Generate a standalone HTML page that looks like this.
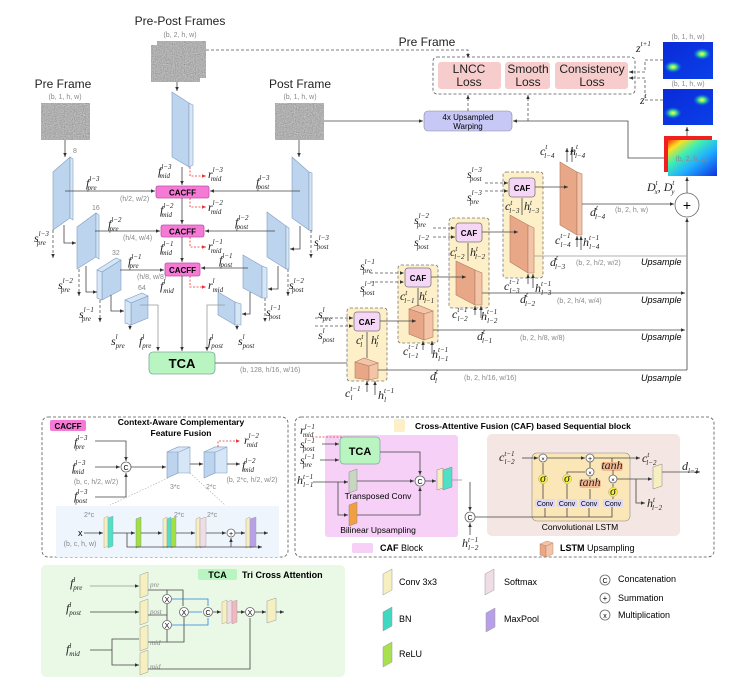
<!DOCTYPE html>
<html><head><meta charset="utf-8"><style>
html,body{margin:0;padding:0;background:#fff}
svg{display:block}
text{font-family:"Liberation Sans",sans-serif}
.m{font-family:"Liberation Serif",serif;font-style:italic;font-size:12px;fill:#222}
.s{font-size:7px}
.g{fill:#888;font-size:7px}
.t{font-size:12px;fill:#222}
.b{font-weight:bold}
.ln{stroke:#444;stroke-width:.8;fill:none}
.gl{stroke:#999;stroke-width:.8;fill:none}
.dl{stroke:#555;stroke-width:.8;fill:none;stroke-dasharray:3 2}
.rd{stroke:#e33;stroke-width:.8;fill:none;stroke-dasharray:2 1.5}
.bl{fill:#bcd4ee;stroke:#7f9cc0;stroke-width:.6}
.bs{fill:#d6e6f7;stroke:#7f9cc0;stroke-width:.6}
.or{fill:#e8a888;stroke:#b07a5e;stroke-width:.6}
.os{fill:#f4c4a8;stroke:#b07a5e;stroke-width:.6}
.pk{fill:#f47ad6;stroke:#c050a8;stroke-width:.8}
.caf{fill:#f6d6f6;stroke:#777;stroke-width:.8}
.yl{fill:#fdf0c8;stroke:#777;stroke-width:.8;stroke-dasharray:3 2}
.cir{fill:#fff;stroke:#666;stroke-width:.8}
</style></head><body>
<svg width="740" height="690" viewBox="0 0 740 690" xmlns="http://www.w3.org/2000/svg">
<defs>
<filter id="nz" x="0" y="0" width="100%" height="100%"><feTurbulence type="fractalNoise" baseFrequency="0.9" numOctaves="2" seed="3"/><feColorMatrix type="matrix" values="0.26 0.26 0.26 0 0.04 0.26 0.26 0.26 0 0.04 0.26 0.26 0.26 0 0.04 0 0 0 0 1"/></filter>
<marker id="ar" markerWidth="6" markerHeight="6" refX="5" refY="3" orient="auto"><path d="M0,0.8 L5,3 L0,5.2z" fill="#333"/></marker>
<marker id="arr" markerWidth="6" markerHeight="6" refX="5" refY="3" orient="auto"><path d="M0,0.8 L5,3 L0,5.2z" fill="#e33"/></marker>
<radialGradient id="blob"><stop offset="0" stop-color="#ffff60"/><stop offset=".4" stop-color="#40e080"/><stop offset="1" stop-color="#1060ff" stop-opacity="0"/></radialGradient>
<linearGradient id="hb" x1="0" y1="0" x2="1" y2="1"><stop offset="0" stop-color="#0a2ad8"/><stop offset="1" stop-color="#0a40e8"/></linearGradient>
<linearGradient id="flow" x1="0" y1="0" x2="1" y2="1"><stop offset="0" stop-color="#ff3010"/><stop offset=".15" stop-color="#ffe020"/><stop offset=".35" stop-color="#40f0b0"/><stop offset=".6" stop-color="#20b0ff"/><stop offset="1" stop-color="#1030e0"/></linearGradient>
</defs>

<text x="180" y="25" text-anchor="middle" class="t" font-size="13">Pre-Post Frames</text>
<text x="180" y="37" text-anchor="middle" class="g">(b, 2, h, w)</text>
<rect x="157" y="41" width="49" height="37" filter="url(#nz)"/>
<rect x="151" y="45" width="49" height="37" filter="url(#nz)"/>
<text x="63" y="88" text-anchor="middle" class="t" font-size="13">Pre Frame</text>
<text x="65" y="99" text-anchor="middle" class="g">(b, 1, h, w)</text>
<rect x="41" y="103" width="49" height="37" filter="url(#nz)"/>
<text x="300" y="88" text-anchor="middle" class="t" font-size="13">Post Frame</text>
<text x="300" y="99" text-anchor="middle" class="g">(b, 1, h, w)</text>
<rect x="275" y="103" width="49" height="37" filter="url(#nz)"/>

<path class="dl" d="M206,50 H468 V58" marker-end="url(#ar)"/>
<text x="427" y="46" text-anchor="middle" class="t" font-size="12">Pre Frame</text>
<path class="ln" d="M324,121 H423" marker-end="url(#ar)"/>

<path class="ln" d="M177,82 V91" marker-end="url(#ar)"/>
<path class="ln" d="M65,140 V157" marker-end="url(#ar)"/>
<path class="ln" d="M299,140 V157" marker-end="url(#ar)"/>

<polygon class="bl" points="172,92 189,103 189,167 172,157"/><polygon class="bs" points="189,103 193,105 193,165 189,167"/>
<polygon class="bl" points="53,172 70,157 70,218 53,230"/><polygon class="bs" points="70,157 73,159 73,220 70,218"/>
<polygon class="bl" points="77,227 96,213 96,257 77,269"/><polygon class="bs" points="96,213 99,215 99,259 96,257"/>
<polygon class="bs" points="97,270 116,258 121,260 102,272"/><polygon class="bl" points="102,272 121,260 121,290 102,300"/><polygon class="bs" points="97,270 102,272 102,300 97,298"/>
<polygon class="bs" points="125,300 142,293 148,296 131,303"/><polygon class="bl" points="131,303 148,296 148,318 131,325"/><polygon class="bs" points="125,300 131,303 131,325 125,323"/>
<polygon class="bl" points="292,157 309,172 309,230 292,218"/><polygon class="bs" points="309,172 312,173 312,231 309,230"/>
<polygon class="bl" points="267,212 286,226 286,269 267,257"/><polygon class="bs" points="286,226 289,228 289,269 286,269"/>
<polygon class="bl" points="243,255 262,266 262,298 243,288"/><polygon class="bs" points="262,266 267,268 267,298 262,298"/>
<polygon class="bl" points="218,292 235,302 235,325 218,315"/><polygon class="bs" points="235,302 241,304 241,325 235,325"/>

<text x="73" y="153" class="g" font-size="8">8</text>
<text x="92" y="210" class="g" font-size="8">16</text>
<text x="112" y="255" class="g" font-size="8">32</text>
<text x="138" y="290" class="g" font-size="8">64</text>

<rect x="156" y="186" width="53" height="12" rx="2" class="pk"/><text x="182.5" y="195.5" text-anchor="middle" font-size="8" class="b">CACFF</text>
<rect x="161" y="225" width="43" height="12" rx="2" class="pk"/><text x="182.5" y="234.5" text-anchor="middle" font-size="8" class="b">CACFF</text>
<rect x="165" y="263" width="35" height="13" rx="2" class="pk"/><text x="182.5" y="273" text-anchor="middle" font-size="8" class="b">CACFF</text>

<path class="ln" d="M182,167 V185" marker-end="url(#ar)"/>
<path class="ln" d="M182,198 V224" marker-end="url(#ar)"/>
<path class="ln" d="M182,237 V262" marker-end="url(#ar)"/>
<path class="ln" d="M182,276 V351" marker-end="url(#ar)"/>
<path class="rd" d="M190,167 V176 H206" marker-end="url(#arr)"/>
<path class="rd" d="M190,198 V207 H206" marker-end="url(#arr)"/>
<path class="rd" d="M190,237 V247 H206" marker-end="url(#arr)"/>
<path class="rd" d="M190,276 V287 H206" marker-end="url(#arr)"/>

<path class="ln" d="M65,191 H155" marker-end="url(#ar)"/>
<path class="ln" d="M95,231 H160" marker-end="url(#ar)"/>
<path class="ln" d="M120,270 H164" marker-end="url(#ar)"/>
<path class="ln" d="M300,191 H210" marker-end="url(#ar)"/>
<path class="ln" d="M275,231 H205" marker-end="url(#ar)"/>
<path class="ln" d="M248,268 H201" marker-end="url(#ar)"/>
<path class="ln" d="M64,225 V243 H76" marker-end="url(#ar)"/>
<path class="ln" d="M86,266 V292 H97" marker-end="url(#ar)"/>
<path class="ln" d="M111,295 V311 H124" marker-end="url(#ar)"/>
<path class="ln" d="M300,226 V249 H290" marker-end="url(#ar)"/>
<path class="ln" d="M278,266 V289 H268" marker-end="url(#ar)"/>
<path class="ln" d="M250,292 V314 H242" marker-end="url(#ar)"/>
<path class="gl" d="M140,305 H158 V351" marker-end="url(#ar)"/>
<path class="gl" d="M225,305 H207 V351" marker-end="url(#ar)"/>
<path class="dl" d="M53,230 V258" marker-end="url(#ar)"/>
<path class="dl" d="M79,269 V296" marker-end="url(#ar)"/>
<path class="dl" d="M100,300 V322" marker-end="url(#ar)"/>
<path class="dl" d="M311,230 V258" marker-end="url(#ar)"/>
<path class="dl" d="M288,269 V296" marker-end="url(#ar)"/>
<path class="dl" d="M265,298 V322" marker-end="url(#ar)"/>
<path class="dl" d="M130,325 V330" marker-end="url(#ar)"/>
<path class="dl" d="M237,325 V330" marker-end="url(#ar)"/>

<text x="120" y="201" class="g" font-size="5">(h/2, w/2)</text>
<text x="123" y="240" class="g" font-size="5">(h/4, w/4)</text>
<text x="137" y="279" class="g" font-size="5">(h/8, w/8)</text>

<text x="86" y="187" class="m">f<tspan class="s" dy="-6">l−3</tspan><tspan class="s" dx="-12" dy="9">pre</tspan></text>
<text x="108" y="228" class="m">f<tspan class="s" dy="-6">l−2</tspan><tspan class="s" dx="-12" dy="9">pre</tspan></text>
<text x="128" y="265" class="m">f<tspan class="s" dy="-6">l−1</tspan><tspan class="s" dx="-12" dy="9">pre</tspan></text>
<text x="158" y="175" class="m">f<tspan class="s" dy="-6">l−3</tspan><tspan class="s" dx="-12" dy="9">mid</tspan></text>
<text x="160" y="214" class="m">f<tspan class="s" dy="-6">l−2</tspan><tspan class="s" dx="-12" dy="9">mid</tspan></text>
<text x="160" y="252" class="m">f<tspan class="s" dy="-6">l−1</tspan><tspan class="s" dx="-12" dy="9">mid</tspan></text>
<text x="160" y="290" class="m">f<tspan class="s" dy="-6">l</tspan><tspan class="s" dx="-2" dy="9">mid</tspan></text>
<text x="208" y="178" class="m">r<tspan class="s" dy="-6">l−3</tspan><tspan class="s" dx="-12" dy="9">mid</tspan></text>
<text x="208" y="211" class="m">r<tspan class="s" dy="-6">l−2</tspan><tspan class="s" dx="-12" dy="9">mid</tspan></text>
<text x="208" y="250" class="m">r<tspan class="s" dy="-6">l−1</tspan><tspan class="s" dx="-12" dy="9">mid</tspan></text>
<text x="208" y="289" class="m">r<tspan class="s" dy="-6">l</tspan><tspan class="s" dx="-2" dy="9">mid</tspan></text>
<text x="256" y="186" class="m">f<tspan class="s" dy="-6">l−3</tspan><tspan class="s" dx="-12" dy="9">post</tspan></text>
<text x="235" y="226" class="m">f<tspan class="s" dy="-6">l−2</tspan><tspan class="s" dx="-12" dy="9">post</tspan></text>
<text x="219" y="264" class="m">f<tspan class="s" dy="-6">l−1</tspan><tspan class="s" dx="-12" dy="9">post</tspan></text>
<text x="34" y="242" class="m">s<tspan class="s" dy="-6">l−3</tspan><tspan class="s" dx="-12" dy="9">pre</tspan></text>
<text x="58" y="289" class="m">s<tspan class="s" dy="-6">l−2</tspan><tspan class="s" dx="-12" dy="9">pre</tspan></text>
<text x="79" y="318" class="m">s<tspan class="s" dy="-6">l−1</tspan><tspan class="s" dx="-12" dy="9">pre</tspan></text>
<text x="111" y="345" class="m">s<tspan class="s" dy="-6">l</tspan><tspan class="s" dx="-2" dy="9">pre</tspan></text>
<text x="139" y="345" class="m">f<tspan class="s" dy="-6">l</tspan><tspan class="s" dx="-2" dy="9">pre</tspan></text>
<text x="208" y="345" class="m">f<tspan class="s" dy="-6">l</tspan><tspan class="s" dx="-2" dy="9">post</tspan></text>
<text x="238" y="345" class="m">s<tspan class="s" dy="-6">l</tspan><tspan class="s" dx="-2" dy="9">post</tspan></text>
<text x="314" y="246" class="m">s<tspan class="s" dy="-6">l−3</tspan><tspan class="s" dx="-12" dy="9">post</tspan></text>
<text x="289" y="289" class="m">s<tspan class="s" dy="-6">l−2</tspan><tspan class="s" dx="-12" dy="9">post</tspan></text>
<text x="266" y="316" class="m">s<tspan class="s" dy="-6">l−1</tspan><tspan class="s" dx="-12" dy="9">post</tspan></text>

<rect x="149" y="352" width="66" height="22" rx="4" fill="#b8f5c0" stroke="#7a9" stroke-width=".8"/>
<text x="182" y="368" text-anchor="middle" font-size="13" class="b">TCA</text>
<path class="ln" d="M215,363 H354" marker-end="url(#ar)"/>
<text x="240" y="372" class="g" font-size="7">(b, 128, h/16, w/16)</text>

<rect x="433" y="57" width="202" height="37" rx="4" fill="none" class="dl"/>
<rect x="438" y="62" width="63" height="27" rx="3" fill="#f6cccc"/>
<rect x="505" y="62" width="45" height="27" rx="3" fill="#f6cccc"/>
<rect x="555" y="62" width="73" height="27" rx="3" fill="#f6cccc"/>
<text x="469" y="73" text-anchor="middle" class="t" font-size="11">LNCC</text><text x="469" y="86" text-anchor="middle" class="t" font-size="11">Loss</text>
<text x="528" y="73" text-anchor="middle" class="t" font-size="11">Smooth</text><text x="528" y="86" text-anchor="middle" class="t" font-size="11">Loss</text>
<text x="592" y="73" text-anchor="middle" class="t" font-size="11">Consistency</text><text x="592" y="86" text-anchor="middle" class="t" font-size="11">Loss</text>
<rect x="424" y="111" width="88" height="20" rx="4" fill="#c8c8f6" stroke="#889" stroke-width=".6"/>
<text x="468" y="120" text-anchor="middle" font-size="8">4x Upsampled</text>
<text x="468" y="129" text-anchor="middle" font-size="8">Warping</text>
<path class="dl" d="M468,111 V95" marker-end="url(#ar)"/>
<path class="dl" d="M528,121 V95" marker-end="url(#ar)"/>
<path class="ln" d="M664,158 H628 V121 H513" marker-end="url(#ar)"/>
<path class="dl" d="M663,60 H645 V72 H629" marker-end="url(#ar)"/>
<path class="dl" d="M663,100 H645 V78 H629" marker-end="url(#ar)"/>

<text x="688" y="39" text-anchor="middle" class="g">(b, 1, h, w)</text>
<rect x="663" y="42" width="50" height="37" fill="url(#hb)"/>
<ellipse cx="702" cy="54" rx="9" ry="6" fill="url(#blob)"/><ellipse cx="673" cy="67" rx="9" ry="6" fill="url(#blob)"/>
<text x="688" y="86" text-anchor="middle" class="g">(b, 1, h, w)</text>
<rect x="663" y="89" width="50" height="36" fill="url(#hb)"/>
<ellipse cx="702" cy="100" rx="9" ry="6" fill="url(#blob)"/><ellipse cx="673" cy="113" rx="9" ry="6" fill="url(#blob)"/>
<text x="636" y="52" class="m">z<tspan class="s" dy="-6">t+1</tspan></text>
<text x="640" y="104" class="m">z<tspan class="s" dy="-6">t</tspan></text>
<path class="ln" d="M687,136 V127" marker-end="url(#ar)"/>
<rect x="664" y="136" width="48" height="36" fill="#f02020"/>
<rect x="668" y="140" width="49" height="36" fill="url(#flow)"/>
<text x="692" y="161" text-anchor="middle" class="g" fill="#555">(b, 2, h, w)</text>

<circle cx="687" cy="205" r="12" class="cir"/><text x="687" y="210" text-anchor="middle" font-size="14">+</text>
<path class="ln" d="M687,193 V177" marker-end="url(#ar)"/>
<text x="647" y="191" class="m">D<tspan class="s" dy="-6">t</tspan><tspan class="s" dx="-3" dy="9">x</tspan><tspan dy="-3">, D</tspan><tspan class="s" dy="-6">t</tspan><tspan class="s" dx="-3" dy="9">y</tspan></text>
<path class="ln" d="M687,370 V218" marker-end="url(#ar)"/>

<rect x="503" y="172" width="40" height="106" rx="3" class="yl"/>
<rect x="449" y="218" width="40" height="90" rx="3" class="yl"/>
<rect x="398" y="265" width="40" height="78" rx="3" class="yl"/>
<rect x="347" y="308" width="40" height="73" rx="3" class="yl"/>
<rect x="509" y="178" width="26" height="19" rx="3" class="caf"/><text x="522" y="191" text-anchor="middle" font-size="8" class="b">CAF</text>
<rect x="456" y="223" width="26" height="19" rx="3" class="caf"/><text x="469" y="236" text-anchor="middle" font-size="8" class="b">CAF</text>
<rect x="405" y="268" width="26" height="19" rx="3" class="caf"/><text x="418" y="281" text-anchor="middle" font-size="8" class="b">CAF</text>
<rect x="354" y="312" width="26" height="19" rx="3" class="caf"/><text x="367" y="325" text-anchor="middle" font-size="8" class="b">CAF</text>

<polygon class="or" points="560,162 577,172 577,235 560,225"/><polygon class="os" points="577,172 582,174 582,235 577,235"/>
<polygon class="or" points="510,215 528,225 528,273 510,262"/><polygon class="os" points="528,225 534,228 534,273 528,273"/>
<polygon class="or" points="456,261 475,270 475,305 456,295"/><polygon class="os" points="475,270 482,273 482,305 475,305"/>
<polygon class="os" points="409,309 418,305 433,311 424,314"/><polygon class="or" points="409,309 424,314 424,340 409,334"/><polygon class="os" points="424,314 433,311 433,337 424,340"/>
<polygon class="os" points="355,362 364,358 378,363 369,366"/><polygon class="or" points="355,362 369,366 369,380 355,378"/><polygon class="os" points="369,366 378,363 378,378 369,380"/>

<path class="ln" d="M535,187 H568" marker-end="url(#ar)"/>
<path class="ln" d="M482,232 H518" marker-end="url(#ar)"/>
<path class="ln" d="M431,277 H466" marker-end="url(#ar)"/>
<path class="ln" d="M380,321 H416" marker-end="url(#ar)"/>
<path class="ln" d="M522,215 V198"/><path class="ln" d="M468,261 V243"/><path class="ln" d="M418,306 V288"/><path class="ln" d="M367,358 V332"/>
<path class="ln" d="M567,162 V148" marker-end="url(#ar)"/><path class="ln" d="M572,162 V148" marker-end="url(#ar)"/>
<path class="ln" d="M577,247 V236" marker-end="url(#ar)"/><path class="ln" d="M581,250 V236" marker-end="url(#ar)"/>
<path class="ln" d="M528,284 V274" marker-end="url(#ar)"/><path class="ln" d="M533,288 V274" marker-end="url(#ar)"/>
<path class="ln" d="M475,315 V306" marker-end="url(#ar)"/><path class="ln" d="M481,318 V306" marker-end="url(#ar)"/>
<path class="ln" d="M423,350 V341" marker-end="url(#ar)"/><path class="ln" d="M432,354 V341" marker-end="url(#ar)"/>
<path class="ln" d="M367,392 V381" marker-end="url(#ar)"/><path class="ln" d="M375,395 V381" marker-end="url(#ar)"/>
<path class="dl" d="M485,183 H508" marker-end="url(#ar)"/><path class="dl" d="M485,191 H508" marker-end="url(#ar)"/>
<path class="dl" d="M433,228 H455" marker-end="url(#ar)"/><path class="dl" d="M433,237 H455" marker-end="url(#ar)"/>
<path class="dl" d="M370,273 H404" marker-end="url(#ar)"/><path class="dl" d="M370,282 H404" marker-end="url(#ar)"/>
<path class="dl" d="M315,318 H353" marker-end="url(#ar)"/><path class="dl" d="M315,326 H353" marker-end="url(#ar)"/>
<path class="ln" d="M582,204 H674" marker-end="url(#ar)"/>
<path class="gl" d="M534,256 H687"/>
<path class="ln" d="M482,293 H685" marker-end="url(#ar)"/>
<path class="ln" d="M433,330 H685" marker-end="url(#ar)"/>
<path class="ln" d="M378,370 H687"/>
<text x="615" y="212" class="g" fill="#777">(b, 2, h, w)</text>
<text x="576" y="265" class="g" fill="#777">(b, 2, h/2, w/2)</text>
<text x="557" y="303" class="g" fill="#777">(b, 2, h/4, w/4)</text>
<text x="520" y="340" class="g" fill="#777">(b, 2, h/8, w/8)</text>
<text x="464" y="380" class="g" fill="#777">(b, 2, h/16, w/16)</text>
<text x="641" y="265" font-style="italic" font-size="9">Upsample</text>
<text x="641" y="303" font-style="italic" font-size="9">Upsample</text>
<text x="641" y="340" font-style="italic" font-size="9">Upsample</text>
<text x="641" y="381" font-style="italic" font-size="9">Upsample</text>
<text x="590" y="216" class="m">d<tspan class="s" dy="-6">t</tspan><tspan class="s" dx="-3" dy="9">l−4</tspan></text>
<text x="550" y="266" class="m">d<tspan class="s" dy="-6">t</tspan><tspan class="s" dx="-3" dy="9">l−3</tspan></text>
<text x="520" y="303" class="m">d<tspan class="s" dy="-6">t</tspan><tspan class="s" dx="-3" dy="9">l−2</tspan></text>
<text x="477" y="340" class="m">d<tspan class="s" dy="-6">t</tspan><tspan class="s" dx="-3" dy="9">l−1</tspan></text>
<text x="430" y="380" class="m">d<tspan class="s" dy="-6">t</tspan><tspan class="s" dx="-3" dy="9">l</tspan></text>
<text x="540" y="155" class="m">c<tspan class="s" dy="-6">t</tspan><tspan class="s" dx="-3" dy="9">l−4</tspan></text>
<text x="570" y="155" class="m">h<tspan class="s" dy="-6">t</tspan><tspan class="s" dx="-3" dy="9">l−4</tspan></text>
<text x="555" y="244" class="m">c<tspan class="s" dy="-6">t−1</tspan><tspan class="s" dx="-10" dy="9">l−4</tspan></text>
<text x="583" y="246" class="m">h<tspan class="s" dy="-6">t−1</tspan><tspan class="s" dx="-10" dy="9">l−4</tspan></text>
<text x="505" y="210" class="m" font-size="10">c<tspan class="s" dy="-5">t</tspan><tspan class="s" dx="-3" dy="8">l−3</tspan></text>
<text x="524" y="210" class="m" font-size="10">h<tspan class="s" dy="-5">t</tspan><tspan class="s" dx="-3" dy="8">l−3</tspan></text>
<text x="504" y="290" class="m">c<tspan class="s" dy="-6">t−1</tspan><tspan class="s" dx="-10" dy="9">l−3</tspan></text>
<text x="535" y="292" class="m">h<tspan class="s" dy="-6">t−1</tspan><tspan class="s" dx="-10" dy="9">l−3</tspan></text>
<text x="450" y="256" class="m" font-size="10">c<tspan class="s" dy="-5">t</tspan><tspan class="s" dx="-3" dy="8">l−2</tspan></text>
<text x="470" y="256" class="m" font-size="10">h<tspan class="s" dy="-5">t</tspan><tspan class="s" dx="-3" dy="8">l−2</tspan></text>
<text x="452" y="318" class="m">c<tspan class="s" dy="-6">t−1</tspan><tspan class="s" dx="-10" dy="9">l−2</tspan></text>
<text x="481" y="320" class="m">h<tspan class="s" dy="-6">t−1</tspan><tspan class="s" dx="-10" dy="9">l−2</tspan></text>
<text x="400" y="300" class="m" font-size="10">c<tspan class="s" dy="-5">t</tspan><tspan class="s" dx="-3" dy="8">l−1</tspan></text>
<text x="419" y="300" class="m" font-size="10">h<tspan class="s" dy="-5">t</tspan><tspan class="s" dx="-3" dy="8">l−1</tspan></text>
<text x="403" y="355" class="m">c<tspan class="s" dy="-6">t−1</tspan><tspan class="s" dx="-10" dy="9">l−1</tspan></text>
<text x="432" y="358" class="m">h<tspan class="s" dy="-6">t−1</tspan><tspan class="s" dx="-10" dy="9">l−1</tspan></text>
<text x="356" y="344" class="m" font-size="10">c<tspan class="s" dy="-5">t</tspan><tspan class="s" dx="-3" dy="8">l</tspan></text>
<text x="371" y="344" class="m" font-size="10">h<tspan class="s" dy="-5">t</tspan><tspan class="s" dx="-3" dy="8">l</tspan></text>
<text x="345" y="397" class="m">c<tspan class="s" dy="-6">t−1</tspan><tspan class="s" dx="-10" dy="9">l</tspan></text>
<text x="378" y="399" class="m">h<tspan class="s" dy="-6">t−1</tspan><tspan class="s" dx="-10" dy="9">l</tspan></text>
<text x="467" y="178" class="m">s<tspan class="s" dy="-6">l−3</tspan><tspan class="s" dx="-12" dy="9">post</tspan></text>
<text x="467" y="201" class="m">s<tspan class="s" dy="-6">l−3</tspan><tspan class="s" dx="-12" dy="9">pre</tspan></text>
<text x="414" y="224" class="m">s<tspan class="s" dy="-6">l−2</tspan><tspan class="s" dx="-12" dy="9">pre</tspan></text>
<text x="414" y="246" class="m">s<tspan class="s" dy="-6">l−2</tspan><tspan class="s" dx="-12" dy="9">post</tspan></text>
<text x="360" y="270" class="m">s<tspan class="s" dy="-6">l−1</tspan><tspan class="s" dx="-12" dy="9">pre</tspan></text>
<text x="360" y="292" class="m">s<tspan class="s" dy="-6">l−1</tspan><tspan class="s" dx="-12" dy="9">post</tspan></text>
<text x="318" y="318" class="m">s<tspan class="s" dy="-6">l</tspan><tspan class="s" dx="-2" dy="9">pre</tspan></text>
<text x="318" y="339" class="m">s<tspan class="s" dy="-6">l</tspan><tspan class="s" dx="-2" dy="9">post</tspan></text>

<rect x="42" y="417" width="246" height="140" rx="6" fill="none" class="dl" stroke="#999"/>
<rect x="50" y="420" width="36" height="11" rx="2" fill="#f47ad6"/>
<text x="68" y="429" text-anchor="middle" font-size="8" class="b">CACFF</text>
<text x="181" y="425" text-anchor="middle" font-size="8.5" class="b">Context-Aware Complementary</text>
<text x="181" y="436" text-anchor="middle" font-size="8.5" class="b">Feature Fusion</text>
<text x="74" y="446" class="m">f<tspan class="s" dy="-6">l−3</tspan><tspan class="s" dx="-12" dy="9">pre</tspan></text>
<text x="72" y="471" class="m">f<tspan class="s" dy="-6">l−3</tspan><tspan class="s" dx="-12" dy="9">mid</tspan></text>
<text x="96" y="484" text-anchor="middle" class="g">(b, c, h/2, w/2)</text>
<text x="74" y="500" class="m">f<tspan class="s" dy="-6">l−3</tspan><tspan class="s" dx="-12" dy="9">post</tspan></text>
<circle cx="126" cy="467" r="5" class="cir"/><text x="126" y="470" text-anchor="middle" font-size="7">C</text>
<path class="ln" d="M95,441 H126 V461" marker-end="url(#ar)"/>
<path class="ln" d="M95,467 H120" marker-end="url(#ar)"/>
<path class="ln" d="M95,497 H126 V473" marker-end="url(#ar)"/>
<path class="ln" d="M131,467 H166" marker-end="url(#ar)"/>
<polygon class="bl" points="167,452 178,447 178,473 167,478"/><polygon class="bs" points="178,447 190,447 190,473 178,473"/><polygon class="bs" points="167,452 178,447 190,447 179,452"/>
<polygon class="bl" points="204,452 215,447 215,473 204,478"/><polygon class="bs" points="215,447 227,447 227,473 215,473"/><polygon class="bs" points="204,452 215,447 227,447 216,452"/>
<path class="ln" d="M190,464 H203" marker-end="url(#ar)"/>
<path class="ln" d="M227,464 H240" marker-end="url(#ar)"/>
<path class="rd" d="M218,447 V441 H240" marker-end="url(#arr)"/>
<text x="244" y="444" class="m">r<tspan class="s" dy="-6">l−2</tspan><tspan class="s" dx="-12" dy="9">mid</tspan></text>
<text x="242" y="469" class="m">f<tspan class="s" dy="-6">l−2</tspan><tspan class="s" dx="-12" dy="9">mid</tspan></text>
<text x="252" y="482" text-anchor="middle" class="g">(b, 2*c, h/2, w/2)</text>
<text x="175" y="489" text-anchor="middle" class="g">3*c</text>
<text x="211" y="489" text-anchor="middle" class="g">2*c</text>
<path d="M168,478 L110,505 M190,473 L225,505" stroke="#aaa" stroke-width=".6" stroke-dasharray="1.5 1.5"/>
<rect x="56" y="506" width="223" height="51" fill="#eef5fc"/>
<text x="84" y="517" class="g" fill="#777">2*c</text><text x="174" y="517" class="g" fill="#777">2*c</text><text x="207" y="517" class="g" fill="#777">2*c</text>
<text x="78" y="536" font-size="9">x</text>
<text x="80" y="546" text-anchor="middle" class="g" fill="#777">(b, c, h, w)</text>
<path class="ln" d="M84,533 H103" marker-end="url(#ar)"/>
<polygon points="104,518 108,516 108,546 104,548" fill="#f6f0c0" stroke="#999" stroke-width=".4"/>
<polygon points="108,518 113,516 113,546 108,548" fill="#50e0c8" stroke="#999" stroke-width=".4"/>
<path class="ln" d="M113,533 H135" marker-end="url(#ar)"/>
<polygon points="136,519 141,517 141,546 136,548" fill="#a0e040" stroke="#789" stroke-width=".4"/>
<path class="ln" d="M141,533 H162" marker-end="url(#ar)"/>
<polygon points="163,519 167,517 167,546 163,548" fill="#f6f0c0" stroke="#999" stroke-width=".4"/>
<polygon points="167,519 171,517 171,546 167,548" fill="#50e0c8" stroke="#999" stroke-width=".4"/>
<polygon points="171,519 176,517 176,546 171,548" fill="#a0e040" stroke="#999" stroke-width=".4"/>
<path class="ln" d="M176,533 H195" marker-end="url(#ar)"/>
<polygon points="196,519 200,517 200,546 196,548" fill="#f6f0c0" stroke="#999" stroke-width=".4"/>
<polygon points="200,519 206,517 206,546 200,548" fill="#f0dce4" stroke="#999" stroke-width=".4"/>
<path class="ln" d="M206,533 H226" marker-end="url(#ar)"/>
<circle cx="231" cy="533" r="4" class="cir"/><text x="231" y="536" text-anchor="middle" font-size="7">+</text>
<path class="ln" d="M235,533 H245" marker-end="url(#ar)"/>
<polygon points="246,519 250,517 250,546 246,548" fill="#f6f0c0" stroke="#999" stroke-width=".4"/>
<polygon points="250,519 256,517 256,546 250,548" fill="#b8a0e8" stroke="#999" stroke-width=".4"/>
<path class="ln" d="M256,533 H268" marker-end="url(#ar)"/>
<path class="ln" d="M127,533 V547 H262" marker-end="url(#ar)"/>
<path class="ln" d="M231,547 V538" marker-end="url(#ar)"/>

<rect x="295" y="417" width="419" height="140" rx="6" fill="none" class="dl" stroke="#999"/>
<rect x="394" y="419" width="11" height="13" rx="2" fill="#fdf0c8"/>
<text x="415" y="429" font-size="8.5" class="b">Cross-Attentive Fusion (CAF) based Sequential block</text>
<rect x="325" y="435" width="133" height="102" rx="3" fill="#f6d0f6"/>
<rect x="487" y="434" width="193" height="102" rx="5" fill="#f4e6e2"/>
<rect x="532" y="453" width="98" height="68" rx="5" fill="#fbe6b8" stroke="#888" stroke-width=".6"/>
<text x="300" y="434" class="m" font-size="10">r<tspan class="s" dy="-5">l−1</tspan><tspan class="s" dx="-12" dy="8">mid</tspan></text>
<path class="rd" d="M312,437 H360 V442" marker-end="url(#arr)"/>
<text x="300" y="448" class="m" font-size="10">s<tspan class="s" dy="-5">l−1</tspan><tspan class="s" dx="-12" dy="8">post</tspan></text>
<text x="300" y="464" class="m" font-size="10">s<tspan class="s" dy="-5">l−1</tspan><tspan class="s" dx="-12" dy="8">pre</tspan></text>
<rect x="340" y="437" width="40" height="27" rx="4" fill="#b8f5c0" stroke="#7a9" stroke-width=".7"/>
<text x="360" y="455" text-anchor="middle" font-size="11" class="b">TCA</text>
<path class="ln" d="M322,444 H339" marker-end="url(#ar)"/>
<path class="ln" d="M320,460 H339" marker-end="url(#ar)"/>
<text x="297" y="484" class="m" font-size="10">h<tspan class="s" dy="-5">t−1</tspan><tspan class="s" dx="-10" dy="8">l−1</tspan></text>
<path class="ln" d="M313,482 H348" marker-end="url(#ar)"/>
<path class="ln" d="M338,482 V515 H348" marker-end="url(#ar)"/>
<polygon points="349,472 357,469 357,490 349,493" fill="#c8d8c0" stroke="#888" stroke-width=".5"/>
<polygon points="349,505 357,502 357,523 349,526" fill="#f0a040" stroke="#888" stroke-width=".5"/>
<text x="378" y="499" text-anchor="middle" font-size="8.5">Transposed Conv</text>
<text x="378" y="533" text-anchor="middle" font-size="8.5">Bilinear Upsampling</text>
<circle cx="420" cy="481" r="5" class="cir"/><text x="420" y="484" text-anchor="middle" font-size="7">C</text>
<path class="ln" d="M357,481 H414" marker-end="url(#ar)"/>
<path class="ln" d="M380,452 H420 V475" marker-end="url(#ar)"/>
<path class="ln" d="M357,515 H420 V487" marker-end="url(#ar)"/>
<path class="ln" d="M425,481 H436" marker-end="url(#ar)"/>
<polygon points="437,470 443,468 443,488 437,490" fill="#f6f0c0" stroke="#888" stroke-width=".5"/>
<polygon points="443,470 452,467 452,487 443,490" fill="#50e0c8" stroke="#888" stroke-width=".5"/>
<path class="gl" d="M452,480 H462"/>
<path class="ln" d="M470,482 V511" marker-end="url(#ar)"/>
<circle cx="470" cy="517" r="5" class="cir"/><text x="470" y="520" text-anchor="middle" font-size="7">C</text>
<path class="ln" d="M470,535 V523" marker-end="url(#ar)"/>
<text x="462" y="547" class="m" font-size="10">h<tspan class="s" dy="-5">t−1</tspan><tspan class="s" dx="-10" dy="8">l−2</tspan></text>
<path class="ln" d="M475,517 H612 V504"/>
<path class="ln" d="M545,517 V508 M567,517 V508 M589,517 V508"/>
<text x="499" y="461" class="m" font-size="10">c<tspan class="s" dy="-5">t−1</tspan><tspan class="s" dx="-10" dy="8">l−2</tspan></text>
<path class="ln" d="M522,458 H538" marker-end="url(#ar)"/>
<circle cx="543" cy="458" r="4" class="cir"/><text x="543" y="461" text-anchor="middle" font-size="6">×</text>
<path class="ln" d="M547,458 H585" marker-end="url(#ar)"/>
<circle cx="590" cy="458" r="4" class="cir"/><text x="590" y="461" text-anchor="middle" font-size="7">+</text>
<path class="ln" d="M594,458 H640" marker-end="url(#ar)"/>
<text x="642" y="462" class="m" font-size="10">c<tspan class="s" dy="-5">t</tspan><tspan class="s" dx="-3" dy="8">l−2</tspan></text>
<circle cx="590" cy="472" r="4" class="cir"/><text x="590" y="475" text-anchor="middle" font-size="6">×</text>
<path class="ln" d="M590,468 V462"/>
<rect x="601" y="462" width="22" height="9" rx="3" fill="#f4b890"/><text x="612" y="469" text-anchor="middle" class="m" font-size="8">tanh</text>
<rect x="579" y="479" width="22" height="9" rx="3" fill="#f4b890"/><text x="590" y="486" text-anchor="middle" class="m" font-size="8">tanh</text>
<circle cx="613" cy="479" r="4" class="cir"/><text x="613" y="482" text-anchor="middle" font-size="6">×</text>
<circle cx="543" cy="479" r="4.5" fill="#f6f040" stroke="#aa8" stroke-width=".5"/><text x="543" y="482" text-anchor="middle" class="m" font-size="7">σ</text>
<circle cx="567" cy="479" r="4.5" fill="#f6f040" stroke="#aa8" stroke-width=".5"/><text x="567" y="482" text-anchor="middle" class="m" font-size="7">σ</text>
<circle cx="613" cy="492" r="4.5" fill="#f6f040" stroke="#aa8" stroke-width=".5"/><text x="613" y="495" text-anchor="middle" class="m" font-size="7">σ</text>
<path class="ln" d="M543,474 V463 M567,474 V472 H585 M590,479 V477 M613,470 V475 M613,487 V484 M612,458 V462"/>
<path class="ln" d="M543,499 V484 M567,499 V484 M590,499 V489 M613,499 V497"/>
<rect x="535" y="499" width="20" height="8" rx="2" fill="#dcd8f6"/><text x="545" y="506" text-anchor="middle" font-size="7">Conv</text>
<rect x="557" y="499" width="20" height="8" rx="2" fill="#dcd8f6"/><text x="567" y="506" text-anchor="middle" font-size="7">Conv</text>
<rect x="579" y="499" width="20" height="8" rx="2" fill="#dcd8f6"/><text x="589" y="506" text-anchor="middle" font-size="7">Conv</text>
<rect x="603" y="499" width="20" height="8" rx="2" fill="#dcd8f6"/><text x="613" y="506" text-anchor="middle" font-size="7">Conv</text>
<text x="580" y="530" text-anchor="middle" font-size="8.5">Convolutional LSTM</text>
<path class="ln" d="M617,479 H652" marker-end="url(#ar)"/>
<path class="ln" d="M636,479 V503 H645" marker-end="url(#ar)"/>
<text x="647" y="507" class="m" font-size="10">h<tspan class="s" dy="-5">t</tspan><tspan class="s" dx="-3" dy="8">l−2</tspan></text>
<polygon points="653,467 662,464 662,486 653,489" fill="#f6f0c0" stroke="#888" stroke-width=".5"/>
<path class="ln" d="M662,472 H700" marker-end="url(#ar)"/>
<text x="682" y="470" class="m" font-size="10">d<tspan class="s" dy="3">l−2</tspan></text>
<rect x="352" y="543" width="21" height="10" rx="2" fill="#f6d0f6"/>
<text x="380" y="551" font-size="9"><tspan class="b">CAF</tspan> Block</text>
<polygon points="540,544 547,541 553,543 546,546" fill="#f4c4a8" stroke="#b07a5e" stroke-width=".4"/>
<polygon points="540,544 546,546 546,557 540,555" fill="#e8a888" stroke="#b07a5e" stroke-width=".4"/>
<polygon points="546,546 553,543 553,554 546,557" fill="#f4c4a8" stroke="#b07a5e" stroke-width=".4"/>
<text x="560" y="551" font-size="9"><tspan class="b">LSTM</tspan> Upsampling</text>

<rect x="41" y="565" width="304" height="112" rx="5" fill="#eaf8e6"/>
<rect x="198" y="569" width="39" height="11" rx="2" fill="#b8f5c0"/>
<text x="217.5" y="578" text-anchor="middle" font-size="9" class="b">TCA</text>
<text x="242" y="578" font-size="9" class="b">Tri Cross Attention</text>
<text x="70" y="587" class="m" font-size="11">f<tspan class="s" dy="-5">l</tspan><tspan class="s" dx="-2" dy="8">pre</tspan></text>
<text x="66" y="612" class="m" font-size="11">f<tspan class="s" dy="-5">l</tspan><tspan class="s" dx="-2" dy="8">post</tspan></text>
<text x="66" y="653" class="m" font-size="11">f<tspan class="s" dy="-5">l</tspan><tspan class="s" dx="-2" dy="8">mid</tspan></text>
<path class="gl" d="M90,586 H139" marker-end="url(#ar)"/>
<path class="ln" d="M90,612 H139" marker-end="url(#ar)"/>
<path class="ln" d="M90,650 H112 V639 H139 M112,650 V665 H139" marker-end="url(#ar)"/>
<polygon points="140,575 148,572 148,595 140,598" fill="#f6f0c0" stroke="#999" stroke-width=".5"/>
<polygon points="140,602 148,599 148,622 140,625" fill="#f6f0c0" stroke="#999" stroke-width=".5"/>
<polygon points="140,628 148,625 148,648 140,651" fill="#f6f0c0" stroke="#999" stroke-width=".5"/>
<polygon points="140,653 148,650 148,672 140,675" fill="#f6f0c0" stroke="#999" stroke-width=".5"/>
<text x="150" y="587" class="m g" font-size="7">pre</text><text x="150" y="614" class="m g" font-size="7">post</text>
<text x="150" y="645" class="m g" font-size="7">mid</text><text x="150" y="669" class="m g" font-size="7">mid</text>
<path class="ln" d="M148,590 H183 V606 M167,590 V594 M148,615 H167 V604 M167,615 V620 M148,642 H167 V630 M148,642 H184 V617 M148,669 H250 V618"/>
<circle cx="167" cy="599" r="4.5" class="cir"/><text x="167" y="602" text-anchor="middle" font-size="7">X</text>
<circle cx="184" cy="612" r="4.5" class="cir"/><text x="184" y="615" text-anchor="middle" font-size="7">X</text>
<circle cx="167" cy="625" r="4.5" class="cir"/><text x="167" y="628" text-anchor="middle" font-size="7">X</text>
<circle cx="208" cy="612" r="4.5" class="cir"/><text x="208" y="615" text-anchor="middle" font-size="7">C</text>
<path d="M172,599 H208 V606 M172,625 H208 V618 M189,612 H202" stroke="#2a7de0" stroke-width=".8" fill="none"/>
<path class="ln" d="M213,612 H221" marker-end="url(#ar)"/>
<polygon points="222,602 227,600 227,622 222,624" fill="#f6f0c0" stroke="#999" stroke-width=".4"/>
<polygon points="227,602 232,600 232,622 227,624" fill="#f0dce4" stroke="#999" stroke-width=".4"/>
<polygon points="232,602 237,600 237,622 232,624" fill="#f0b8c0" stroke="#999" stroke-width=".4"/>
<path class="ln" d="M237,612 H245" marker-end="url(#ar)"/>
<circle cx="250" cy="612" r="4.5" class="cir"/><text x="250" y="615" text-anchor="middle" font-size="7">X</text>
<path class="ln" d="M255,612 H266" marker-end="url(#ar)"/>
<polygon points="267,601 276,598 276,620 267,623" fill="#f6f0c0" stroke="#999" stroke-width=".5"/>
<path class="ln" d="M276,612 H284" marker-end="url(#ar)"/>

<polygon points="383,574 392,569 392,590 383,595" fill="#f6f0c0" stroke="#999" stroke-width=".5"/>
<text x="399" y="585" font-size="9">Conv 3x3</text>
<polygon points="383,612 392,607 392,626 383,631" fill="#40d8c0" stroke="#999" stroke-width=".5"/>
<text x="399" y="622" font-size="9">BN</text>
<polygon points="383,647 392,642 392,662 383,667" fill="#a8e050" stroke="#999" stroke-width=".5"/>
<text x="399" y="657" font-size="9">ReLU</text>
<polygon points="485,574 494,569 494,590 485,595" fill="#f0dce4" stroke="#999" stroke-width=".5"/>
<text x="504" y="585" font-size="9">Softmax</text>
<polygon points="486,613 495,608 495,627 486,632" fill="#b8a0e8" stroke="#999" stroke-width=".5"/>
<text x="504" y="622" font-size="9">MaxPool</text>
<circle cx="605" cy="580" r="5" class="cir"/><text x="605" y="583" text-anchor="middle" font-size="7">C</text>
<text x="618" y="582" font-size="9">Concatenation</text>
<circle cx="605" cy="598" r="5" class="cir"/><text x="605" y="601" text-anchor="middle" font-size="8">+</text>
<text x="618" y="601" font-size="9">Summation</text>
<circle cx="605" cy="615" r="5" class="cir"/><text x="605" y="618" text-anchor="middle" font-size="7">x</text>
<text x="618" y="618" font-size="9">Multiplication</text>
</svg>
</body></html>
